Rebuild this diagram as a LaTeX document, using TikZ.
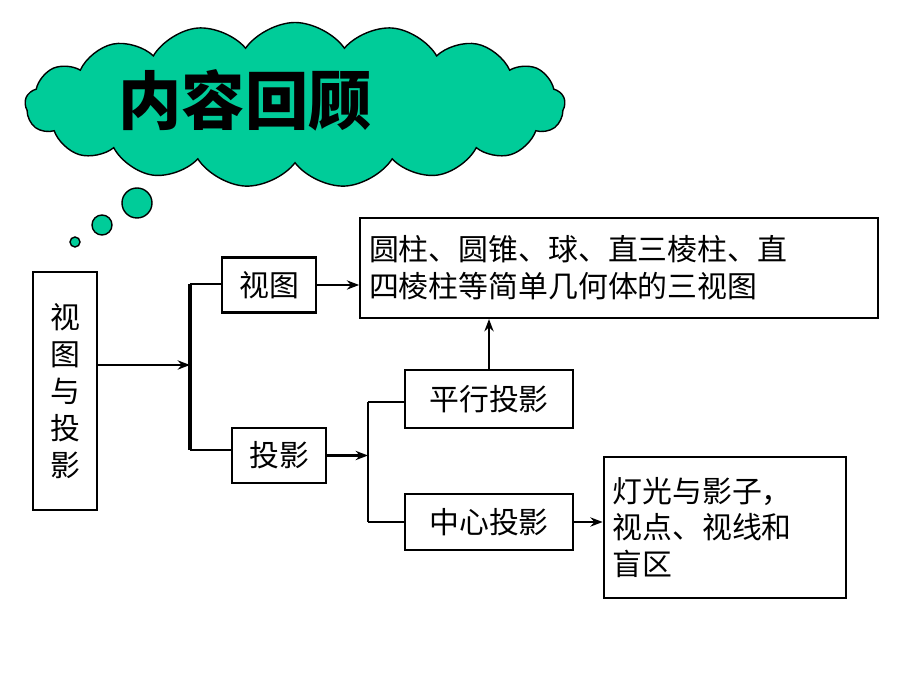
\documentclass[tikz,border=0pt]{standalone}
\usepackage{fontspec}
\newfontfamily\cjk{Noto Sans CJK SC}
\usetikzlibrary{shapes.symbols,arrows.meta}

\tikzset{
  box/.style={draw, line width=1.2pt, font=\cjk\fontsize{17}{21}\selectfont, inner sep=3pt},
  link/.style={line width=1.2pt},
  arr/.style={line width=1.2pt, -{Stealth[length=7pt]}}
}

\begin{document}
\begin{tikzpicture}
        \useasboundingbox (0,0) rectangle (18.4,13.8);
        \definecolor{cloudgreen}{RGB}{0,204,153}

        % cloud with title
        \node[cloud, cloud puffs=17, cloud puff arc=110, aspect=3, fill=cloudgreen, draw=black, thick,
              minimum width=10.8cm, minimum height=3.3cm] (cl) at (5.9,11.7) {};
        \node[font=\cjk\bfseries\fontsize{36}{40}\selectfont] (title) at (4.9,11.8) {内容回顾};
        \draw[fill=cloudgreen, thick] (2.74,9.74) circle (0.3);
        \draw[fill=cloudgreen, thick] (2.04,9.3) circle (0.2);
        \draw[fill=cloudgreen, thick] (1.5,8.96) circle (0.1);

        % boxes
        \node[box, minimum width=1.28cm, minimum height=4.76cm, align=center] (vp) at (1.3,5.98) {视\\图\\与\\投\\影};
        \node[box, minimum width=1.88cm, minimum height=1.1cm] (st) at (5.38,8.1) {视图};
        \node[box, minimum width=1.88cm, minimum height=1.1cm] (ty) at (5.58,4.69) {投影};
        \node[box, minimum height=2cm, text width=10cm, align=left, inner sep=5pt] (sv) at (12.38,8.44)
             {圆柱、圆锥、球、直三棱柱、直\\四棱柱等简单几何体的三视图};
        \node[box, minimum width=3.36cm, minimum height=1.16cm] (px) at (9.78,5.82) {平行投影};
        \node[box, minimum width=3.36cm, minimum height=1.12cm] (zx) at (9.78,3.36) {中心投影};
        \node[box, minimum height=2.82cm, text width=4.5cm, align=left, inner sep=5pt] (dg) at (14.5,3.25)
             {灯光与影子，\\视点、视线和\\盲区};

        % connectors
        \coordinate (j1) at (3.8,6.5);
        \coordinate (j1t) at (3.8,8.12);
        \coordinate (j1b) at (3.8,4.8);
        \coordinate (j2) at (7.36,4.69);
        \coordinate (j2t) at (7.36,5.76);
        \coordinate (j2b) at (7.36,3.36);
        \draw[arr] (vp.east |- j1) -- (j1);
        \draw[line width=2.5pt] (j1t) -- (j1b);
        \draw[link] (j1t) -- (st.west |- j1t);
        \draw[link] (j1b) -- (ty.west |- j1b);
        \draw[arr] (st.east) -- (sv.west |- st.east);
        \draw[arr] (ty.east) -- (j2);
        \draw[link] (j2t) -- (j2b);
        \draw[link] (j2t) -- (px.west |- j2t);
        \draw[link] (j2b) -- (zx.west);
        \draw[arr] (px.north) -- (px.north |- sv.south);
        \draw[arr] (zx.east) -- (dg.west |- zx.east);
    \end{tikzpicture}
\end{document}
